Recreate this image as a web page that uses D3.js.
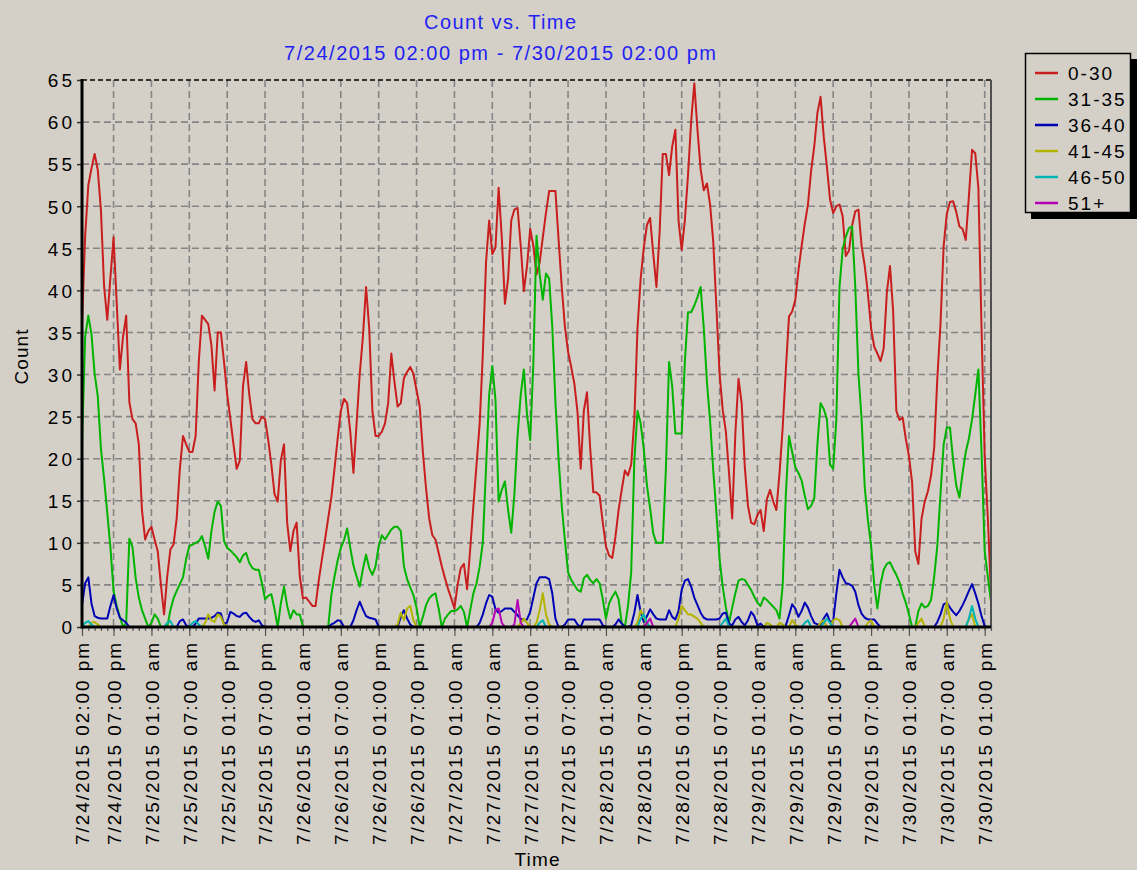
<!DOCTYPE html>
<html>
<head>
<meta charset="utf-8">
<script src="https://d3js.org/d3.v7.min.js"></script>
<style>
  body { margin: 0; background: #d4d0c8; }
  svg { display: block; }
  text { font-family: "Liberation Sans", Arial, sans-serif; }
</style>
</head>
<body>
<svg id="chart" width="1137" height="870"></svg>
<script>
// readings every 30 minutes, 7/24 14:00 -> 7/30 14:00
var startTime = "2015-07-24 14:00";
var endTime = "2015-07-30 14:00";
var stepMinutes = 30;

var seriesNames = ["0-30", "31-35", "36-40", "41-45", "46-50", "51+"];
var seriesColors = ["#c81e1e", "#00b400", "#0000b4", "#b4b400", "#00b4b4", "#b400b4"];

var tickTimes = ["2015-07-24 14:00", "2015-07-24 19:00",
  "2015-07-25 01:00", "2015-07-25 07:00", "2015-07-25 13:00", "2015-07-25 19:00",
  "2015-07-26 01:00", "2015-07-26 07:00", "2015-07-26 13:00", "2015-07-26 19:00",
  "2015-07-27 01:00", "2015-07-27 07:00", "2015-07-27 13:00", "2015-07-27 19:00",
  "2015-07-28 01:00", "2015-07-28 07:00", "2015-07-28 13:00", "2015-07-28 19:00",
  "2015-07-29 01:00", "2015-07-29 07:00", "2015-07-29 13:00", "2015-07-29 19:00",
  "2015-07-30 01:00", "2015-07-30 07:00", "2015-07-30 13:00"];
var tickLabels = ["7/24/2015 02:00 pm", "7/24/2015 07:00 pm",
  "7/25/2015 01:00 am", "7/25/2015 07:00 am", "7/25/2015 01:00 pm", "7/25/2015 07:00 pm",
  "7/26/2015 01:00 am", "7/26/2015 07:00 am", "7/26/2015 01:00 pm", "7/26/2015 07:00 pm",
  "7/27/2015 01:00 am", "7/27/2015 07:00 am", "7/27/2015 01:00 pm", "7/27/2015 07:00 pm",
  "7/28/2015 01:00 am", "7/28/2015 07:00 am", "7/28/2015 01:00 pm", "7/28/2015 07:00 pm",
  "7/29/2015 01:00 am", "7/29/2015 07:00 am", "7/29/2015 01:00 pm", "7/29/2015 07:00 pm",
  "7/30/2015 01:00 am", "7/30/2015 07:00 am", "7/30/2015 01:00 pm"];
var yTickValues = [0, 5, 10, 15, 20, 25, 30, 35, 40, 45, 50, 55, 60, 65];

var red = [
 36, 46.5, 52.5, 54.5, 56.2, 54.3, 49.5, 40.5, 36.5, 41.5, 46.3, 38.5, 30.6, 34.5, 37, 26.7, 24.7, 24.2, 21.7, 13.9,
 10.4, 11.4, 11.9, 10.4, 9, 5, 1.5, 6, 9.2, 9.8, 12.9, 18.8, 22.7, 21.7, 20.8, 20.8, 22.7, 31.5, 37, 36.5,
 36, 33.5, 28.1, 35, 35, 31.5, 27.6, 24.7, 21.7, 18.8, 19.8, 28.6, 31.5, 27.6, 24.7, 24.2, 24.2, 25, 24.7, 22.2,
 19.3, 15.8, 14.9, 19.8, 21.7, 12.4, 9, 11.4, 12.4, 6, 3.4, 3.5, 3, 2.5, 2.5, 5.5, 8, 10.4, 12.9, 15.4,
 18.8, 22.4, 25.7, 27.1, 26.6, 23.2, 18.3, 24.2, 30.1, 34.5, 40.4, 35.5, 25.7, 22.7, 22.7, 23.2, 24.2, 26.6, 32.5, 29.1,
 26.2, 26.6, 29.6, 30.3, 30.9, 30.1, 28.1, 26.2, 20.8, 16.5, 12.9, 10.9, 10.4, 8.8, 7.2, 5.8, 4.5, 3.4, 2.2, 5,
 7, 7.5, 4.5, 9.3, 14.4, 19.3, 24.2, 32.5, 43.3, 48.3, 44.3, 45.1, 52.2, 46.3, 38.4, 41.4, 48.3, 49.6, 49.8, 45.3,
 39.9, 42.9, 47.3, 45.3, 41.9, 43.3, 46.3, 49.2, 51.8, 51.8, 51.8, 46, 40.4, 35.7, 32.7, 30.9, 28.9, 25.5, 18.8, 25.7,
 27.9, 21.3, 16, 16, 15.6, 12.4, 9.6, 8.5, 8.2, 10.7, 13.9, 16.3, 18.6, 18, 19.3, 24.7, 35.5, 41.4, 45.1, 47.8,
 48.6, 44.3, 40.4, 46.9, 56.2, 56.2, 53.7, 57.1, 59.1, 48.3, 44.8, 48.3, 53.7, 60.1, 64.6, 59.1, 54.4, 51.9, 52.7, 50.2,
 45.8, 38, 30.1, 25.8, 23.2, 18.3, 12.9, 23, 29.5, 26.6, 19, 14.4, 12.4, 12.2, 13.3, 13.9, 11.4, 15.2, 16.3, 14.9,
 13.9, 18.3, 23.7, 30.6, 36.9, 37.5, 38.9, 42.4, 45.3, 47.9, 50.2, 54.2, 57.1, 61.1, 63, 58.3, 54.7, 50.8, 49.2, 50,
 50.2, 48.8, 44.1, 44.7, 47.7, 49.4, 49.6, 45.3, 42.9, 39.6, 35.5, 33.3, 32.5, 31.6, 33.1, 39.7, 42.9, 37.5, 25.7, 24.6,
 24.9, 22.4, 20.3, 17.2, 9, 7.5, 12.9, 14.9, 16.1, 18, 21.3, 29.6, 36, 45.3, 49.1, 50.5, 50.6, 49.3, 47.6, 47.3,
 46, 51.2, 56.7, 56.3, 52.2, 35.5, 20.3, 12.9, 4
];

var green = [
 21.7, 34.5, 37, 34.8, 30.1, 27.4, 21.2, 17.6, 13.6, 9.5, 4.3, 2.5, 1.2, 0, 0.5, 10.5, 9.5, 5.8, 3.5, 2,
 1, 0, 0.5, 1.5, 1, 0, 0, 0, 2, 3.4, 4.3, 5.1, 5.9, 8.1, 9.6, 9.8, 10, 10.2, 10.8, 9.6,
 8.1, 11.4, 13.7, 14.9, 14.4, 10.2, 9.4, 9.1, 8.7, 8.3, 7.7, 8.5, 8.8, 7.6, 7, 6.8, 6.8, 5.2, 3.3, 3.7,
 3.9, 2.1, 0, 2.8, 4.8, 2.5, 1, 2, 1.5, 1.5, 0, 0, 0, 0, 0, 0, 0, 0, 0, 3.8,
 6, 7.9, 9.4, 10.3, 11.7, 9.4, 7.3, 6, 4.8, 6.9, 8.6, 7, 6.2, 7.2, 9.6, 10.9, 10.4, 11, 11.6, 11.9,
 11.9, 11.4, 7.2, 5.7, 4.7, 3.8, 2.3, 0, 1.2, 2.6, 3.4, 3.8, 4, 2.2, 0, 1, 1.5, 1.9, 1.9, 2.1,
 2.5, 1.8, 0, 2, 4, 5.2, 7.2, 10.1, 18.8, 27.6, 31, 27, 14.9, 16.3, 17.3, 13.9, 11.2, 15.8, 22.7, 27.6,
 30.6, 25.2, 22.2, 31.3, 46.5, 41.9, 38.9, 42, 41.4, 35.7, 26.7, 20, 14.4, 10.3, 6.5, 5.6, 5, 4.4, 4.2, 5.8,
 6.2, 5.6, 5.2, 5.7, 5.2, 3.3, 1, 2.8, 3.6, 4.2, 3.3, 0.5, 0, 2.5, 6.5, 19.8, 25.7, 24.2, 21.1, 16.8,
 14.1, 11.1, 10, 10, 10, 18.8, 31.5, 28.6, 23, 23, 23, 31.5, 37.4, 37.4, 38.2, 39.2, 40.4, 35.5, 29.1, 24.5,
 18.6, 13.6, 8.1, 4.8, 2.3, 0.5, 2.3, 4, 5.5, 5.7, 5.6, 5, 4.4, 3.6, 2.9, 2.5, 3.5, 3.2, 2.8, 2.4,
 2, 1, 5, 15.8, 22.7, 20.8, 19, 18.3, 17.4, 15.6, 14, 14.4, 15.3, 21.7, 26.6, 25.9, 24.7, 19.3, 18.8, 24.7,
 40.4, 44.9, 46.4, 47.4, 47.6, 40.4, 30.1, 24.7, 16.6, 12.7, 9.7, 5, 2.2, 5.1, 6.8, 7.5, 7.7, 6.9, 6.2, 5.3,
 4, 2.9, 1.5, 0, 0, 1.9, 2.8, 2.3, 2.5, 3.2, 6, 9.7, 15.8, 21.7, 23.7, 23.7, 19.8, 16.8, 15.4, 18.3,
 20.8, 22.4, 24.7, 27.6, 30.6, 20.8, 9, 6, 3
];

var blue = [
 2.6, 5.2, 5.9, 2.8, 1.3, 1.1, 1, 1, 1, 2.5, 3.8, 2.2, 1.1, 0.8, 0.5, 0, 0, 0, 0, 0,
 0, 0, 0, 0, 0, 0, 0, 0, 0, 0, 0, 0.7, 0.9, 0.2, 0, 0, 0.4, 1, 1, 1,
 1, 1.1, 1.3, 1.7, 1.6, 0.3, 0.6, 1.8, 1.6, 1.3, 1.2, 1.6, 1.7, 1.2, 0.8, 0.6, 0.8, 0.2, 0, 0,
 0, 0, 0, 0, 0, 0, 0, 0, 0, 0, 0, 0, 0, 0, 0, 0, 0, 0, 0, 0.3,
 0.5, 0.8, 0.7, 0, 0, 0, 0.8, 2, 3, 2.1, 1.3, 1.1, 1, 0.9, 0, 0, 0, 0, 0, 0,
 0, 1.2, 2, 1, 0.3, 0, 0, 0, 0, 0, 0, 0, 0, 0, 0, 0, 0, 0, 0, 0,
 0, 0, 0, 0, 0, 0, 0.5, 1.5, 2.8, 3.8, 3.6, 2.1, 1.7, 1.9, 2.2, 2.2, 2.2, 1.8, 1.4, 1,
 0.8, 0.9, 1.8, 3.5, 5.2, 5.9, 5.9, 5.9, 5.7, 4, 1, 0, 0, 0.3, 0.9, 0.9, 0.9, 0.3, 0, 0.9,
 0.9, 0.9, 0.9, 0.9, 0.9, 0.2, 0, 0, 0, 0.3, 0.9, 0.4, 0, 0, 0.2, 1.7, 3.8, 1.8, 0.6, 1.3,
 2.1, 1.5, 1, 0.9, 0.9, 0.9, 2, 1.2, 0.9, 1.9, 4.4, 5.5, 5.7, 4.8, 3.5, 2.6, 1.7, 1.1, 0.9, 0.9,
 0.9, 0.9, 1, 1.6, 1.7, 0.4, 0.2, 0.9, 1.2, 0.6, 0.2, 0.8, 1.8, 1.3, 0.2, 0.4, 0, 0, 0, 0,
 0, 0, 0, 0.2, 1.4, 2.7, 2.2, 1.2, 1.9, 2.9, 2.3, 1.3, 0.5, 0.3, 0.3, 1, 1.6, 0.6, 0.7, 4,
 6.8, 5.9, 5.2, 5.1, 4.9, 4.2, 2.6, 1.6, 1.1, 0.9, 0.9, 0.9, 0.4, 0, 0, 0, 0, 0, 0, 0,
 0, 0, 0, 0, 0, 0, 0, 0, 0, 0, 0, 0.6, 1.5, 2.7, 2.9, 2.3, 1.8, 1.4, 1.9, 2.6,
 3.4, 4.3, 5.1, 4, 2.8, 1.3, 0.1, 0, 0
];

var yellow = [
 0, 0, 0, 0.5, 0.6, 0.3, 0, 0, 0, 0, 0, 0, 0, 0, 0, 0, 0, 0, 0, 0,
 0, 0, 0, 0, 0, 0, 0, 0, 0, 0, 0, 0, 0, 0, 0, 0, 0, 0, 0, 0.5,
 1.5, 0.8, 0.6, 1.5, 1.2, 0.3, 0, 0, 0, 0, 0, 0, 0, 0, 0, 0, 0, 0, 0, 0,
 0, 0, 0, 0, 0, 0, 0, 0, 0, 0, 0, 0, 0, 0, 0, 0, 0, 0, 0, 0,
 0, 0, 0, 0, 0, 0, 0, 0, 0, 0, 0, 0, 0, 0, 0, 0, 0, 0, 0, 0,
 0.3, 1.7, 0.8, 2.2, 2.5, 0.8, 0, 0, 0, 0, 0, 0, 0, 0, 0, 0, 0, 0, 0, 0,
 0, 0, 0, 0, 0, 0, 0, 0, 0, 0, 0, 0, 0, 0, 0, 0, 0, 0, 0, 0.5,
 1, 0.5, 0, 0, 0.5, 2, 4, 1.5, 0.3, 0, 0, 0, 0, 0, 0, 0, 0, 0, 0, 0,
 0, 0, 0, 0, 0, 0, 0, 0, 0, 0, 0, 0, 0, 0, 0, 0, 0.5, 2, 1.2, 0.3,
 0, 0, 0, 0, 0, 0, 0, 0, 0, 1, 2.5, 2, 1.5, 1.5, 1.2, 1, 0.5, 0, 0, 0,
 0, 0, 0, 0, 0, 0, 0, 0, 0, 0, 0, 0, 0, 0, 0, 0, 0, 0.5, 0.3, 0,
 0, 0.5, 0.3, 0, 0, 0.8, 0.3, 0, 0, 0, 0, 0, 0, 0, 0.5, 0.8, 0, 0, 0.8, 1,
 0.8, 0, 0, 0, 0, 0, 0, 0, 0, 0.5, 0.8, 0, 0, 0, 0, 0, 0, 0, 0, 0,
 0, 0, 0, 0, 0, 0.5, 1, 0, 0, 0, 0, 0, 0, 1, 3, 1, 0, 0, 0, 0,
 0, 1, 1.5, 0, 0, 0, 0, 0, 0
];

var cyan = [
 0, 0.5, 0.7, 0.3, 0, 0, 0, 0, 0, 0, 0, 0, 0, 0, 0, 0, 0, 0, 0, 0,
 0, 0, 0, 0, 0, 0, 0, 0.5, 0.7, 0, 0, 0, 0, 0, 0, 0.5, 0.7, 0.3, 0, 0,
 0, 0, 0, 0, 0, 0, 0, 0, 0, 0, 0, 0, 0, 0, 0, 0, 0, 0, 0, 0,
 0, 0, 0, 0, 0, 0, 0, 0, 0, 0, 0, 0, 0, 0, 0, 0, 0, 0, 0, 0,
 0, 0, 0, 0, 0, 0, 0, 0, 0, 0, 0, 0, 0, 0, 0, 0, 0, 0, 0, 0,
 0, 0, 0, 0, 0, 0, 0, 0, 0, 0, 0, 0, 0, 0, 0, 0, 0, 0, 0, 0,
 0, 0, 0, 0, 0, 0, 0, 0, 0, 0, 0, 0, 0, 0, 0, 0, 0, 0, 0, 0,
 0, 0, 0, 0, 0, 0.5, 0.8, 0, 0, 0, 0, 0, 0, 0, 0, 0, 0, 0, 0, 0,
 0, 0, 0, 0, 0, 0, 0, 0, 0, 0, 0, 0, 0, 0, 0, 0, 0, 1, 1.5, 0.5,
 0, 0, 0, 0, 0, 0, 0, 0, 0, 0, 0, 0, 0, 0, 0, 0, 0, 0, 0, 0,
 0, 0, 0, 0.5, 1, 0, 0, 0, 0, 0, 0, 0, 0, 0, 0, 0, 0, 0, 0, 0,
 0, 0, 0, 0, 0, 0, 0, 0, 0, 0.5, 0.8, 0, 0, 0, 0, 0.5, 1, 0.5, 0, 0,
 0, 0, 0, 0, 0, 0, 0, 0, 0, 0, 0, 0, 0, 0, 0, 0, 0, 0, 0, 0,
 0, 0, 0, 0, 0, 0, 0, 0, 0, 0, 0, 0, 0, 0, 0, 0, 0, 0, 0, 0,
 0, 1, 2.5, 1, 0, 0, 0, 0, 0
];

var magenta = [
 0, 0, 0, 0, 0, 0, 0, 0, 0, 0, 0, 0, 0, 0, 0, 0, 0, 0, 0, 0,
 0, 0, 0, 0, 0, 0, 0, 0, 0, 0, 0, 0, 0, 0, 0, 0, 0, 0, 0, 0,
 0, 0, 0, 0, 0, 0, 0, 0, 0, 0, 0, 0, 0, 0, 0, 0, 0, 0, 0, 0,
 0, 0, 0, 0, 0, 0, 0, 0, 0, 0, 0, 0, 0, 0, 0, 0, 0, 0, 0, 0,
 0, 0, 0, 0, 0, 0, 0, 0, 0, 0, 0, 0, 0, 0, 0, 0, 0, 0, 0, 0,
 0, 0, 0, 0, 0, 0, 0, 0, 0, 0, 0, 0, 0, 0, 0, 0, 0, 0, 0, 0,
 0, 0, 0, 0, 0, 0, 0, 0, 0, 0, 0.5, 2, 2.2, 0.5, 0, 0, 0, 0.3, 3.2, 0.5,
 0, 0, 0, 0, 0, 0, 0, 0, 0, 0, 0, 0, 0, 0, 0, 0, 0, 0, 0, 0,
 0, 0, 0, 0, 0, 0, 0, 0, 0, 0, 0, 0, 0, 0, 0, 0, 0, 0, 0, 0.5,
 1, 0, 0, 0, 0, 0, 0, 0, 0, 0, 0, 0, 0, 0, 0, 0, 0, 0, 0, 0,
 0, 0, 0, 0, 0, 0, 0, 0, 0, 0, 0, 0, 0, 0, 0, 0, 0, 0, 0, 0,
 0, 0, 0, 0, 0, 0, 0, 0, 0, 0, 0, 0, 0, 0, 0, 0, 0, 0, 0, 0,
 0, 0, 0, 0, 0.5, 1, 0, 0, 0, 0, 0, 0, 0, 0, 0, 0, 0, 0, 0, 0,
 0, 0, 0, 0, 0, 0, 0, 0, 0, 0, 0, 0, 0, 0, 0, 0, 0, 0, 0, 0,
 0, 0, 0, 0, 0, 0, 0, 0, 0
];

var seriesValues = [red, green, blue, yellow, cyan, magenta];

var parseTime = d3.timeParse("%Y-%m-%d %H:%M");
var t0 = parseTime(startTime), t1 = parseTime(endTime);
var times = red.map(function(d, i) { return d3.timeMinute.offset(t0, i * stepMinutes); });
var tickDates = tickTimes.map(parseTime);

var plotLeft = 82, plotRight = 991, plotTop = 80, plotBottom = 627;
var x = d3.scaleTime().domain([t0, t1]).range([plotLeft, plotRight]);
var y = d3.scaleLinear().domain([0, 65]).range([plotBottom, plotTop]);

var svg = d3.select("#chart");
svg.append("rect").attr("width", 1137).attr("height", 870).attr("fill", "#d4d0c8");

// grid
var grid = svg.append("g")
  .attr("stroke", "#858585").attr("stroke-width", 1.6).attr("stroke-dasharray", "7,4");
grid.selectAll("line.h")
  .data(yTickValues.filter(function(v) { return v > 0 && v < 65; }))
  .enter().append("line")
  .attr("x1", plotLeft).attr("x2", plotRight)
  .attr("y1", function(d) { return y(d); }).attr("y2", function(d) { return y(d); });
grid.selectAll("line.v")
  .data(tickDates.slice(1))
  .enter().append("line")
  .attr("y1", plotTop).attr("y2", plotBottom)
  .attr("x1", function(d) { return x(d); }).attr("x2", function(d) { return x(d); });

// series
var line = d3.line()
  .x(function(d, i) { return x(times[i]); })
  .y(function(d) { return y(d); });
svg.append("g").selectAll("path")
  .data(seriesValues)
  .enter().append("path")
  .attr("fill", "none")
  .attr("stroke", function(d, i) { return seriesColors[i]; })
  .attr("stroke-width", 2)
  .attr("stroke-linejoin", "round")
  .attr("d", line);

// borders
svg.append("line").attr("x1", plotLeft).attr("x2", plotRight).attr("y1", plotTop).attr("y2", plotTop)
  .attr("stroke", "#000").attr("stroke-width", 1.6).attr("stroke-dasharray", "5,3");
svg.append("line").attr("x1", plotRight).attr("x2", plotRight).attr("y1", plotTop).attr("y2", plotBottom)
  .attr("stroke", "#505050").attr("stroke-width", 2);

// x axis: hourly minor ticks and labelled major ticks
var xMinor = d3.axisBottom(x).ticks(d3.timeHour.every(1)).tickSize(4).tickFormat("");
svg.append("g").attr("transform", "translate(0," + plotBottom + ")").call(xMinor)
  .call(function(g) { g.select(".domain").remove(); })
  .selectAll("line").attr("stroke", "#555").attr("stroke-width", 1.2);

var xAxis = d3.axisBottom(x).tickValues(tickDates).tickSize(9)
  .tickFormat(function(d, i) { return tickLabels[i]; });
var gx = svg.append("g").attr("transform", "translate(0," + plotBottom + ")").call(xAxis);
gx.select(".domain").remove();
gx.selectAll("line").attr("stroke", "#555").attr("stroke-width", 1.2);
gx.selectAll("text")
  .attr("font-family", null)
  .attr("font-size", 19)
  .attr("fill", "#000")
  .attr("transform", "rotate(-90)")
  .attr("x", -16).attr("y", 0).attr("dy", "0.36em")
  .attr("text-anchor", "end")
  .attr("textLength", 202)
  .attr("lengthAdjust", "spacing");

// y axis
var yAxis = d3.axisLeft(y).tickValues(yTickValues).tickSize(5);
var gy = svg.append("g").attr("transform", "translate(" + plotLeft + ",0)").call(yAxis);
gy.select(".domain").remove();
gy.selectAll("line").attr("stroke", "#333").attr("stroke-width", 1.5);
gy.selectAll("text")
  .attr("font-family", null)
  .attr("font-size", 19)
  .attr("fill", "#000")
  .attr("x", -7)
  .attr("dy", "0.36em")
  .style("letter-spacing", "3px");

svg.append("line").attr("x1", plotLeft).attr("x2", plotLeft).attr("y1", plotTop - 1).attr("y2", plotBottom + 1.5)
  .attr("stroke", "#000").attr("stroke-width", 3);
svg.append("line").attr("x1", plotLeft).attr("x2", plotRight).attr("y1", plotBottom).attr("y2", plotBottom)
  .attr("stroke", "#000").attr("stroke-width", 3);

// titles
svg.append("text").attr("x", 500).attr("y", 29).attr("text-anchor", "middle")
  .attr("font-size", 20).attr("fill", "#2323f0")
  .attr("textLength", 152).attr("lengthAdjust", "spacing")
  .text("Count vs. Time");
svg.append("text").attr("x", 500).attr("y", 60).attr("text-anchor", "middle")
  .attr("font-size", 20).attr("fill", "#2323f0")
  .attr("textLength", 432).attr("lengthAdjust", "spacing")
  .text("7/24/2015 02:00 pm - 7/30/2015 02:00 pm");
svg.append("text").attr("transform", "translate(28,357) rotate(-90)")
  .attr("text-anchor", "middle").attr("font-size", 19).attr("fill", "#000")
  .attr("textLength", 55).attr("lengthAdjust", "spacing")
  .text("Count");
svg.append("text").attr("x", 537).attr("y", 866)
  .attr("text-anchor", "middle").attr("font-size", 19).attr("fill", "#000")
  .attr("textLength", 45).attr("lengthAdjust", "spacing")
  .text("Time");

// legend
var lg = svg.append("g");
lg.append("rect").attr("x", 1031).attr("y", 59).attr("width", 106).attr("height", 160).attr("fill", "#000");
lg.append("rect").attr("x", 1025.5).attr("y", 53.5).attr("width", 105).attr("height", 159)
  .attr("fill", "#d4d0c8").attr("stroke", "#000").attr("stroke-width", 1.5);
var item = lg.selectAll("g.item").data(seriesNames).enter().append("g")
  .attr("transform", function(d, i) { return "translate(0," + (73 + i * 26) + ")"; });
item.append("line").attr("x1", 1035).attr("x2", 1058).attr("y1", 0).attr("y2", 0)
  .attr("stroke", function(d, i) { return seriesColors[i]; }).attr("stroke-width", 2.5);
item.append("text").attr("x", 1068).attr("y", 0).attr("dy", "0.36em")
  .attr("font-size", 19).attr("fill", "#000").style("letter-spacing", "2px")
  .text(function(d) { return d; });
</script>
</body>
</html>
